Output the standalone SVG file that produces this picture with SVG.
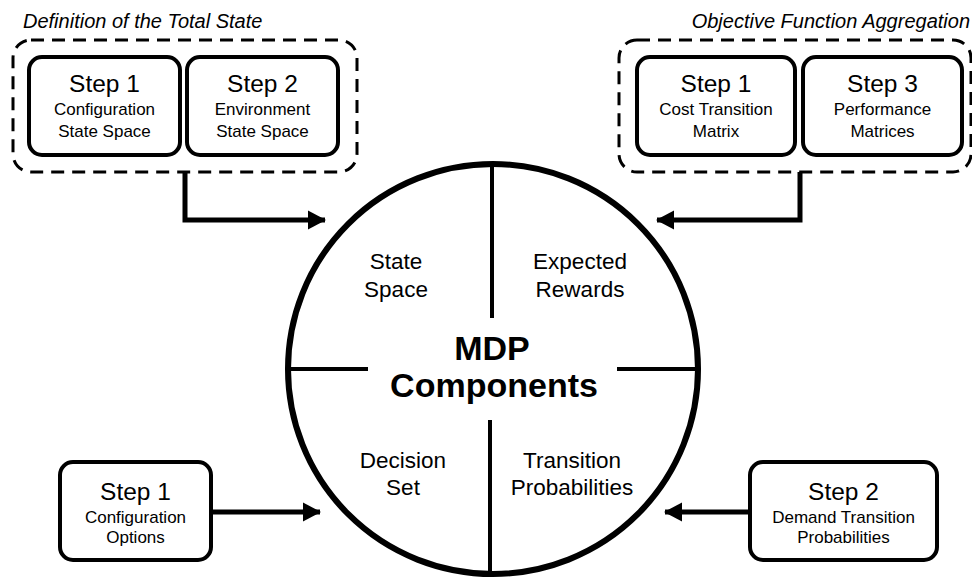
<svg xmlns="http://www.w3.org/2000/svg" width="972" height="578" viewBox="0 0 972 578">
<style>
text{font-family:"Liberation Sans",Arial,sans-serif;fill:#000;text-anchor:middle}
.step{font-size:24.5px}
.sub{font-size:17px}
.title{font-size:20px;font-style:italic}
.part{font-size:22.5px}
.big{font-size:34px;font-weight:bold}
.box{fill:#fff;stroke:#000;stroke-width:4}
.dash{fill:none;stroke:#000;stroke-width:3;stroke-dasharray:13 8}
.conn{fill:none;stroke:#000;stroke-width:5}
</style>
<defs>
<marker id="ah" markerWidth="4" markerHeight="5" refX="3.4" refY="2.5" orient="auto" markerUnits="strokeWidth">
<path d="M0,0.6 L3.6,2.5 L0,4.4 Z" fill="#000"/>
</marker>
</defs>
<rect width="972" height="578" fill="#fff"/>

<g id="mdp">
<circle cx="493" cy="369" r="205" fill="#fff" stroke="#000" stroke-width="6"/>
<line x1="492" y1="164" x2="492" y2="318" stroke="#000" stroke-width="4"/>
<line x1="490" y1="420" x2="490" y2="574" stroke="#000" stroke-width="4"/>
<line x1="290" y1="369" x2="368" y2="369" stroke="#000" stroke-width="4"/>
<line x1="617" y1="369" x2="696" y2="369" stroke="#000" stroke-width="4"/>
<text class="part" x="396" y="269">State</text>
<text class="part" x="396" y="297">Space</text>
<text class="part" x="580" y="269">Expected</text>
<text class="part" x="580" y="297">Rewards</text>
<text class="part" x="403" y="468">Decision</text>
<text class="part" x="403" y="495">Set</text>
<text class="part" x="572" y="468">Transition</text>
<text class="part" x="572" y="495">Probabilities</text>
<text class="big" x="492" y="360">MDP</text>
<text class="big" x="494" y="397">Components</text>
</g>

<g id="total-state">
<text class="title" x="23" y="28" style="text-anchor:start">Definition of the Total State</text>
<rect class="dash" x="13" y="40" width="344" height="132" rx="18"/>
</g>
<g id="ts-step1">
<rect class="box" x="29" y="57" width="151" height="98" rx="13"/>
<text class="step" x="104.5" y="92">Step 1</text>
<text class="sub" x="104.5" y="115">Configuration</text>
<text class="sub" x="104.5" y="137">State Space</text>
</g>
<g id="ts-step2">
<rect class="box" x="187" y="57" width="151" height="98" rx="13"/>
<text class="step" x="262.5" y="92">Step 2</text>
<text class="sub" x="262.5" y="115">Environment</text>
<text class="sub" x="262.5" y="137">State Space</text>
</g>

<g id="objective">
<text class="title" x="970" y="28" style="text-anchor:end">Objective Function Aggregation</text>
<rect class="dash" x="619" y="40" width="352" height="132" rx="18"/>
</g>
<g id="of-step1">
<rect class="box" x="637" y="57" width="158" height="98" rx="13"/>
<text class="step" x="716" y="92">Step 1</text>
<text class="sub" x="716" y="115">Cost Transition</text>
<text class="sub" x="716" y="137">Matrix</text>
</g>
<g id="of-step3">
<rect class="box" x="803" y="57" width="159" height="98" rx="13"/>
<text class="step" x="882.5" y="92">Step 3</text>
<text class="sub" x="882.5" y="115">Performance</text>
<text class="sub" x="882.5" y="137">Matrices</text>
</g>

<g id="config-options">
<rect class="box" x="60" y="462" width="151" height="98" rx="13"/>
<text class="step" x="135.5" y="500">Step 1</text>
<text class="sub" x="135.5" y="523">Configuration</text>
<text class="sub" x="135.5" y="543">Options</text>
</g>
<g id="demand">
<rect class="box" x="750" y="462" width="187" height="98" rx="13"/>
<text class="step" x="843.5" y="500">Step 2</text>
<text class="sub" x="843.5" y="523">Demand Transition</text>
<text class="sub" x="843.5" y="543">Probabilities</text>
</g>

<g id="connectors">
<polyline class="conn" points="185,172 185,220 325,220" marker-end="url(#ah)"/>
<polyline class="conn" points="800,172 800,220 657,220" marker-end="url(#ah)"/>
<line class="conn" x1="211" y1="512" x2="320" y2="512" marker-end="url(#ah)"/>
<line class="conn" x1="750" y1="512" x2="665" y2="512" marker-end="url(#ah)"/>
</g>
</svg>
